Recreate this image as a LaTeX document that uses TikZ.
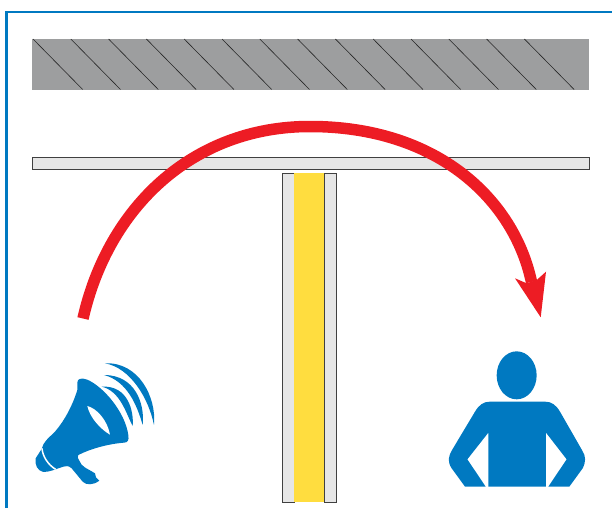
\documentclass[tikz,border=0pt]{standalone}
\usepackage{tikz}
\definecolor{framblue}{HTML}{0079C1}
\definecolor{arrowred}{HTML}{ED1C24}
\definecolor{slabgray}{HTML}{9D9E9F}
\definecolor{panelgray}{HTML}{E6E6E6}
\definecolor{coreyellow}{HTML}{FFDD3F}
\tikzset{panel/.style={draw=black!75, line width=0.9pt, fill=panelgray}}
\begin{document}
\begin{tikzpicture}[x=1pt,y=-1pt]
        \useasboundingbox (0,0) rectangle (612,508);
        % Frame
        \draw[framblue, line width=2.9pt] (6.3,508) -- (6.3,12) -- (612,12);
        % Ceiling slab
        \fill[slabgray] (32,39) rectangle (589,90);
        \foreach \x in {0,...,13} {
            \draw[black!85, line width=0.6pt] ({33+37.8*\x},39) -- ({82.7+37.8*\x},89.5);
          }
        % Suspended ceiling
        \draw[panel] (32,157.5) rectangle (589,169);
        % Partition wall
        \draw[panel] (282.5,173) rectangle (294,502);
        \draw[panel] (324.5,173) rectangle (336,502);
        \fill[coreyellow] (294.4,173) rectangle (324.1,502);
        % Sound path
        \draw[arrowred, line width=11.5pt] (83,318.5) .. controls (108,208) and (192,126.5) .. (310,126.5)
            .. controls (438,126.5) and (514,200) .. (531.5,282);
        \fill[arrowred] (540.7,317.3) -- (515,278.3) -- (526.7,283.3) -- (536.7,280) -- (546,271.7) -- cycle;
        % Loudspeaker
        \begin{scope}[shift={(0,340)},x=0.3333pt,y=-0.3333pt]
          \fill[framblue] (232,128) .. controls (232,115) and (245,113) .. (262,119)
              .. controls (310,140) and (375,215) .. (385,285)
              .. controls (388,302) and (382,308) .. (372,308)
              .. controls (325,312) and (275,325) .. (235,345)
              .. controls (230,350) and (234,355) .. (238,362)
              .. controls (245,382) and (262,385) .. (285,400)
              -- (288,412) -- (298,422) .. controls (280,436) and (258,436) .. (248,425)
              -- (215,385) .. controls (205,376) and (198,378) .. (190,380)
              .. controls (165,388) and (150,396) .. (130,396)
              .. controls (112,392) and (104,375) .. (107,355)
              -- (125,327) .. controls (130,305) and (145,295) .. (165,275)
              .. controls (195,240) and (218,195) .. (232,150) -- cycle;
          \draw[white, line width=1.5pt] (126,325) .. controls (128,350) and (145,375) .. (167,388);
          \fill[white] (262,198) .. controls (290,205) and (322,240) .. (330,284)
              .. controls (305,270) and (270,235) .. (262,198) -- cycle;
          \foreach \a/\b/\c/\d/\e/\f/\g/\h in {305/140/385/135/402/215/398/258,
              312/105/405/105/435/190/428/255, 315/70/415/65/470/170/462/255} {
            \fill[framblue] (\a,\b) .. controls (\c,\d) and (\e,\f) .. (\g,\h)
                .. controls ({\e-24},{\f+5}) and ({\c-24},{\d+18}) .. (\a,\b) -- cycle;
          }
        \end{scope}
        % Listener
        \begin{scope}[shift={(430,260)},x=0.3333pt,y=-0.3333pt]
          \fill[framblue] (260,346) ellipse [x radius=60, y radius=72];
          \fill[framblue] (175,680) -- (175,518) -- (112,598) -- (167,680) -- (105,680) -- (65,625)
              .. controls (52,605) and (55,590) .. (65,572)
              -- (135,455) .. controls (147,435) and (160,425) .. (180,425)
              -- (345,425) .. controls (365,425) and (378,435) .. (390,455)
              -- (457,572) .. controls (468,590) and (468,605) .. (458,625)
              -- (418,680) -- (355,680) -- (410,598) -- (348,518) -- (348,680) -- cycle;
        \end{scope}
      \end{tikzpicture}
\end{document}
